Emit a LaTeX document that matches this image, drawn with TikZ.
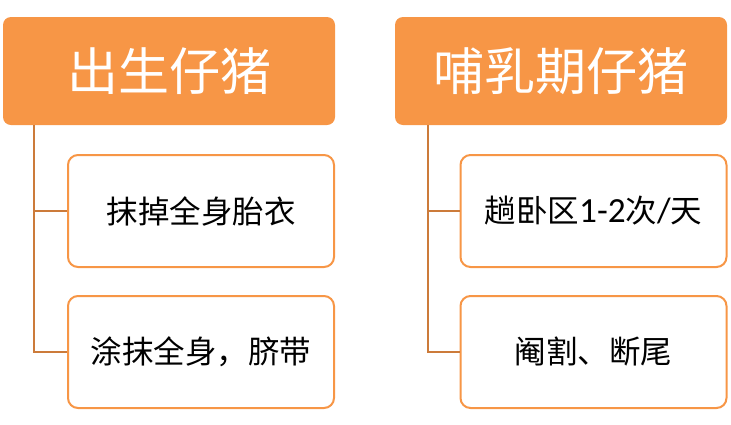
\documentclass[tikz,border=0pt]{standalone}
\usepackage{fontspec}
\newfontfamily\cjk{Noto Sans CJK SC}
\newfontfamily\latin[Scale=1.12]{Carlito}
\definecolor{hdr}{HTML}{F79646}
\definecolor{conn}{HTML}{CC7B3A}
\begin{document}
\begin{tikzpicture}[x=1pt,y=-1pt,
  header/.style={fill=hdr,draw=none,rounded corners=8pt,minimum width=332pt,minimum height=108pt,inner sep=0pt,text=white,font=\cjk\fontsize{51}{55}\selectfont},
  child/.style={fill=white,draw=hdr,line width=2pt,rounded corners=10pt,minimum width=266pt,minimum height=112pt,inner sep=0pt,text=black,font=\cjk\fontsize{31.5}{34}\selectfont},
  link/.style={draw=conn,line width=2.5pt}]
\useasboundingbox (0,0) rectangle (731,424);
\node[header] (h1) at (169,71) {出生仔猪};
\node[header] (h2) at (561,71) {哺乳期仔猪};
\node[child] (a1) at (201,211) {抹掉全身胎衣};
\node[child] (a2) at (201,352) {涂抹全身，脐带};
\node[child] (b1) at (593.5,211) {趟卧区{\latin 1-2}次{\latin /}天};
\node[child] (b2) at (593.5,352) {阉割、断尾};
\coordinate (l1) at (34,125);
\coordinate (r1) at (428,125);
\draw[link] (l1) |- (a1.west);
\draw[link] (l1) |- (a2.west);
\draw[link] (r1) |- (b1.west);
\draw[link] (r1) |- (b2.west);
\end{tikzpicture}
\end{document}
